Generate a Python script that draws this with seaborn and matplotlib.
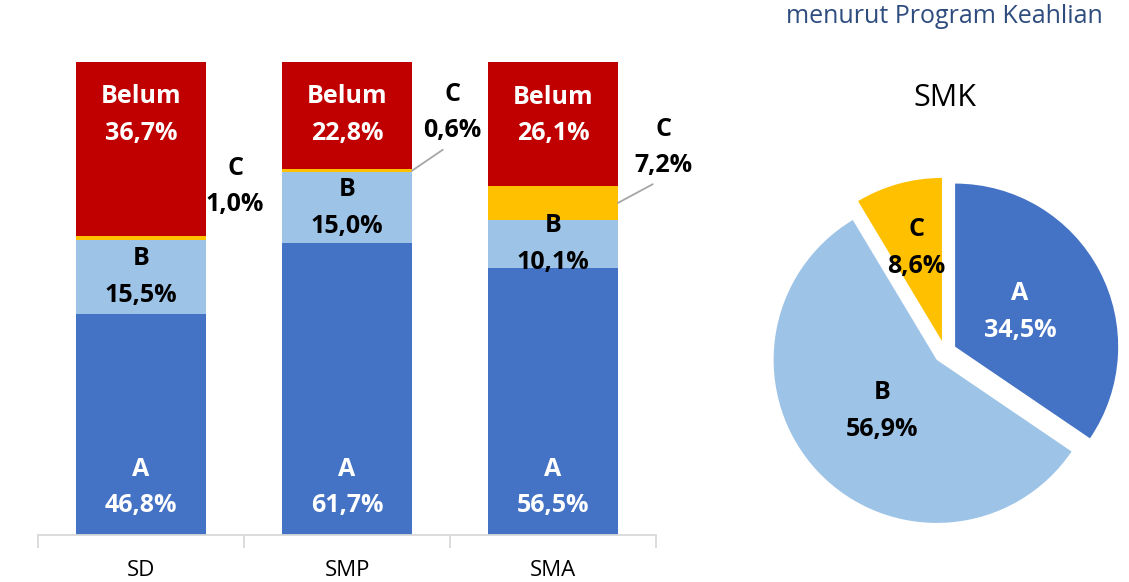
import pandas as pd
import seaborn as sns
import matplotlib.pyplot as plt
import numpy as np

# Data (percent)
levels = ["SD", "SMP", "SMA"]
segments = ["A", "B", "C", "Belum"]
share_a = [46.8, 61.7, 56.5]
share_b = [15.5, 15.0, 10.1]
share_c = [1.0, 0.6, 7.2]
share_belum = [36.7, 22.8, 26.1]

smk_labels = ["A", "B", "C"]
smk_share = [34.5, 56.9, 8.6]

subtitle = "menurut Program Keahlian"

colors = {"A": "#4472C4", "B": "#9DC3E6", "C": "#FFC000", "Belum": "#C00000"}
text_colors = {"A": "white", "B": "black", "C": "black", "Belum": "white"}

sns.set_style("white")
plt.rcParams["font.family"] = ["Open Sans", "DejaVu Sans"]


def fmt(v):
    return f"{v:.1f}".replace(".", ",") + "%"


df = pd.DataFrame({
    "Level": levels,
    "A": share_a,
    "B": share_b,
    "C": share_c,
    "Belum": share_belum,
})
cum = df[segments].cumsum(axis=1)

fig = plt.figure(figsize=(11.29, 5.82), dpi=100)
ax = fig.add_axes([38 / 1129, 1 - 535 / 582, 618 / 1129, 473 / 582])

# Stacked bars: draw cumulative totals from the top segment down
for seg in reversed(segments):
    sns.barplot(
        x=df["Level"],
        y=cum[seg],
        color=colors[seg],
        saturation=1,
        width=0.63,
        linewidth=0,
        errorbar=None,
        order=levels,
        ax=ax,
    )

ax.set_xlim(-0.5, 2.5)
ax.set_ylim(0, 100)
ax.set_xlabel("")
ax.set_ylabel("")
ax.set_yticks([])
for side in ["left", "right", "top"]:
    ax.spines[side].set_visible(False)
ax.spines["bottom"].set_color("#D9D9D9")
ax.spines["bottom"].set_linewidth(1.3)
ax.set_xticks([-0.5, 0.5, 1.5, 2.5], minor=True)
ax.tick_params(axis="x", which="minor", bottom=True, length=9, width=1.3,
               color="#D9D9D9", direction="out")
ax.tick_params(axis="x", which="major", bottom=False, length=0, pad=18,
               labelsize=16, labelcolor="#000000")

label_kw = dict(ha="center", fontsize=18, fontweight="bold", linespacing=1.62)
c_offsets = [(21, 37), (29, 42), (33, 40)]
c_leader = [False, True, True]

for i, level in enumerate(levels):
    a, b, c, belum = df.loc[i, segments]
    # A: inside base
    ax.annotate(f"A\n{fmt(a)}", xy=(i, 0), xytext=(0, 12), textcoords="offset points",
                va="bottom", color=text_colors["A"], **label_kw)
    # B: centered
    ax.text(i, a + b / 2, f"B\n{fmt(b)}", va="center", color=text_colors["B"], **label_kw)
    # Belum: inside end
    ax.annotate(f"Belum\n{fmt(belum)}", xy=(i, cum.loc[i, "Belum"]), xytext=(0, -16),
                textcoords="offset points", va="top", color=text_colors["Belum"], **label_kw)
    # C: outside with leader line
    arrow = dict(arrowstyle="-", color="#A6A6A6", lw=1.3, shrinkA=4, shrinkB=0,
                 relpos=(0.5, 0)) if c_leader[i] else None
    ax.annotate(f"C\n{fmt(c)}", xy=(i + 0.315, a + b + c / 2), xytext=c_offsets[i],
                textcoords="offset points", va="center", color=text_colors["C"],
                arrowprops=arrow, **label_kw)

# SMK pie
pax = fig.add_axes([733 / 1129, 18 / 582, 424 / 1129, 424 / 582])
wedges, _ = pax.pie(
    smk_share,
    colors=[colors[k] for k in smk_labels],
    startangle=90,
    counterclock=False,
    explode=[0.07] * len(smk_share),
    wedgeprops=dict(linewidth=0),
)
pax.set_xlim(-1.3, 1.3)
pax.set_ylim(-1.3, 1.3)
pax.set_aspect("equal")

label_dist = [0.45, 0.46, 0.59]
for w, lab, val, d in zip(wedges, smk_labels, smk_share, label_dist):
    theta = np.deg2rad((w.theta1 + w.theta2) / 2)
    cx, cy = w.center
    pax.text(cx + d * np.cos(theta), cy + d * np.sin(theta), f"{lab}\n{fmt(val)}",
             va="center", color=text_colors[lab], **label_kw)

fig.text(945 / 1129, 1 - 98 / 582, "SMK", ha="center", va="center", fontsize=22, color="#000000")
fig.text(1103 / 1129, 1 - 23 / 582, subtitle, ha="right", va="baseline", fontsize=18, color="#2E4C7E")

fig.savefig("out.png", dpi=100)
